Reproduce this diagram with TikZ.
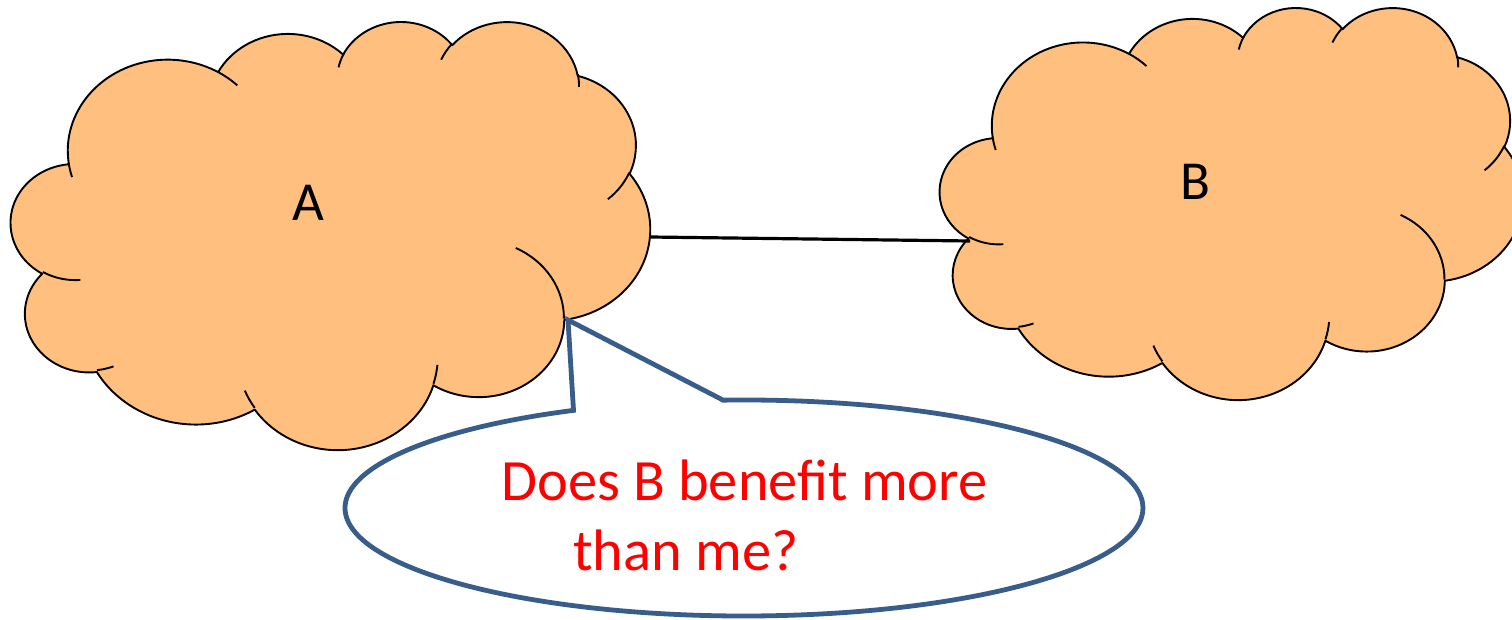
\documentclass[tikz,border=0pt]{standalone}
\usepackage{fontspec}
\setmainfont{Carlito}
\definecolor{cloudfill}{RGB}{255,191,127}
\definecolor{callblue}{HTML}{385D8A}
\definecolor{qred}{RGB}{255,0,0}
\tikzset{
  cloudline/.style={draw=black, line width=1.9pt, line join=round},
  cloudbody/.style={cloudline, fill=cloudfill},
  cloudinner/.style={cloudline, fill=none},
  linkline/.style={draw=black, line width=3.2pt},
  callout/.style={draw=callblue, fill=white, line width=4.8pt, line join=miter},
  cloudlabel/.style={inner sep=0pt, anchor=base, font=\fontsize{55}{66}\selectfont},
  qtext/.style={inner sep=0pt, anchor=base west, text=qred, font=\fontsize{58.5}{70}\selectfont}
}
\newcommand{\drawcloudshape}{%
  \path[cloudbody] (39.00,143.70)
    arc[start angle=-187.745, end angle=-59.64, x radius=67.53, y radius=91.90]
    arc[start angle=-152.02, end angle=-45.43, x radius=53.33, y radius=72.67]
    arc[start angle=-153.49, end angle=-37.33, x radius=43.65, y radius=59.45]
    arc[start angle=-139.71, end angle=-10.21, x radius=48.57, y radius=65.95]
    arc[start angle=-74.77, end angle=23.21, x radius=53.33, y radius=72.73]
    arc[start angle=-37.52, end angle=81.86, x radius=67.75, y radius=92.20]
    arc[start angle=0.46, end angle=121.98, x radius=57.85, y radius=78.67]
    arc[start angle=16.84, end angle=146.23, x radius=67.52, y radius=92.15]
    arc[start angle=58.98, end angle=150.19, x radius=77.20, y radius=105.43]
    arc[start angle=-276.69, end angle=-136.89, x radius=43.60, y radius=59.18]
    arc[start angle=-239.64, end angle=-95.89, x radius=43.45, y radius=59.45]
    -- cycle;
  \path[cloudinner] (46.93,261.77) arc[start angle=85.55, end angle=120.36, x radius=43.45, y radius=59.45];
  \path[cloudinner] (69.28,348.99) arc[start angle=68.23, end angle=83.31, x radius=43.60, y radius=59.18];
  \path[cloudinner] (164.78,390.90) arc[start angle=146.23, end angle=158.48, x radius=67.52, y radius=92.15];
  \path[cloudinner] (288.27,347.51) arc[start angle=4.74, end angle=16.84, x radius=67.52, y radius=92.15];
  \path[cloudinner] (341.29,229.54) arc[start angle=-64.03, end angle=0.46, x radius=57.85, y radius=78.67];
  \path[cloudinner] (417.98,153.54) arc[start angle=23.21, end angle=49.64, x radius=53.33, y radius=72.73];
  \path[cloudinner] (383.24,54.26) arc[start angle=-10.21, end angle=0.82, x radius=48.57, y radius=65.95];
  \path[cloudinner] (290.78,39.52) arc[start angle=-156.29, end angle=-139.71, x radius=48.57, y radius=65.95];
  \path[cloudinner] (221.41,47.20) arc[start angle=-167.73, end angle=-153.49, x radius=43.65, y radius=59.45];
  \path[cloudinner] (140.00,51.92) arc[start angle=-59.64, end angle=-45.73, x radius=67.53, y radius=91.90];
  \path[cloudinner] (41.27,157.89) arc[start angle=163.19, end angle=172.26, x radius=67.53, y radius=91.90];
}
\begin{document}
\begin{tikzpicture}[x=1pt, y=1pt, yscale=-1]
\useasboundingbox (0,0) rectangle (1512,620);
\clip (0,0) rectangle (1512,620);
% cloud A
\begin{scope}[shift={(11,20.6)}, xscale=639/432, yscale=428/432]
  \drawcloudshape
\end{scope}
% cloud B
\begin{scope}[shift={(940,6.7)}, xscale=583/432, yscale=392/432]
  \drawcloudshape
\end{scope}
\node[cloudlabel] (A) at (308.5,221) {A};
\node[cloudlabel] (B) at (1195,200) {B};
\coordinate (Aport) at (650,237);
\coordinate (Bport) at (970,241);
\draw[linkline] (Aport) -- (Bport);
% callout
\coordinate (ctr) at (744,508);
\coordinate (tip) at (568,320);
\path[callout] (tip) -- ([shift={(-93:399 and 108)}]ctr)
  arc[start angle=-93, end angle=244.7, x radius=399, y radius=108] -- cycle;
\node[qtext] (q1) at (501,500) {Does B benefit more};
\node[qtext] (q2) at (573,570) {than me?};
\end{tikzpicture}
\end{document}
